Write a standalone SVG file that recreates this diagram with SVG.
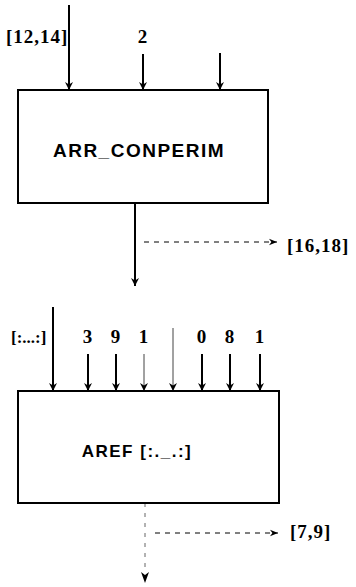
<svg xmlns="http://www.w3.org/2000/svg" width="356" height="587" viewBox="0 0 356 587">
<defs>
<marker id="ah" viewBox="0 0 10 10" refX="10" refY="5" markerWidth="11" markerHeight="8" markerUnits="userSpaceOnUse" orient="auto"><path d="M0,0 L10,5 L0,10 L3,5 Z" fill="#000"/></marker>
<marker id="ahd" viewBox="0 0 10 10" refX="10" refY="5" markerWidth="13" markerHeight="8" markerUnits="userSpaceOnUse" orient="auto"><path d="M0,1 L10,5 L0,9 L3,5 Z" fill="#000"/></marker>
<style>
.box{fill:#fff;stroke:#000;stroke-width:2}
.lbl{font-family:"Liberation Sans",Arial,sans-serif;font-size:17px;font-weight:bold;letter-spacing:1.5px;fill:#000;text-anchor:middle}
.num{font-family:"Liberation Serif","Times New Roman",serif;font-size:19px;font-weight:bold;letter-spacing:1px;fill:#000}
.in{stroke:#000;stroke-width:2;fill:none;marker-end:url(#ah)}
.inl{stroke:#444;stroke-width:1;fill:none;marker-end:url(#ah)}
.dash{stroke:#000;stroke-width:1;stroke-dasharray:5,5;fill:none;marker-end:url(#ahd)}
</style>
</defs>
<g id="connectors">
<line class="in" x1="69" y1="5" x2="69" y2="90"/>
<line class="in" x1="143" y1="54" x2="143" y2="90"/>
<line class="in" x1="220" y1="53" x2="220" y2="90"/>
<line class="in" x1="135" y1="203" x2="135" y2="286"/>
<line class="dash" x1="144" y1="242" x2="277" y2="242"/>
<line class="in" x1="53" y1="307" x2="53" y2="391"/>
<line class="in" x1="88" y1="354" x2="88" y2="391"/>
<line class="in" x1="116" y1="354" x2="116" y2="391"/>
<line class="inl" x1="144" y1="354" x2="144" y2="391"/>
<line class="inl" x1="173" y1="328" x2="173" y2="391"/>
<line class="in" x1="202" y1="354" x2="202" y2="391"/>
<line class="in" x1="230" y1="354" x2="230" y2="391"/>
<line class="in" x1="260" y1="354" x2="260" y2="391"/>
<line stroke="#666" stroke-width="1" stroke-dasharray="4,6" x1="145" y1="503" x2="145" y2="572"/>
<path d="M141,572 L145,583 L149,572 L145,575 Z" fill="#000"/>
<line class="dash" x1="155" y1="533" x2="278" y2="533"/>
</g>
<g id="arr_conperim">
<rect class="box" x="18" y="90" width="250" height="113"/>
<text class="lbl" x="139" y="157" style="font-size:19px">ARR_CONPERIM</text>
</g>
<g id="aref">
<rect class="box" x="18" y="391" width="261" height="112"/>
<text class="lbl" x="137" y="457">AREF [:._.:]</text>
</g>
<g id="labels">
<text class="num" x="6" y="43">[12,14]</text>
<text class="num" x="143" y="43" text-anchor="middle">2</text>
<text class="num" x="287" y="252">[16,18]</text>
<text class="num" x="11" y="343" style="letter-spacing:0;font-size:17px">[:...:]</text>
<text class="num" x="88" y="343" text-anchor="middle">3</text>
<text class="num" x="116" y="343" text-anchor="middle">9</text>
<text class="num" x="144" y="343" text-anchor="middle">1</text>
<text class="num" x="202" y="343" text-anchor="middle">0</text>
<text class="num" x="230" y="343" text-anchor="middle">8</text>
<text class="num" x="260" y="343" text-anchor="middle">1</text>
<text class="num" x="290" y="538">[7,9]</text>
</g>
</svg>
